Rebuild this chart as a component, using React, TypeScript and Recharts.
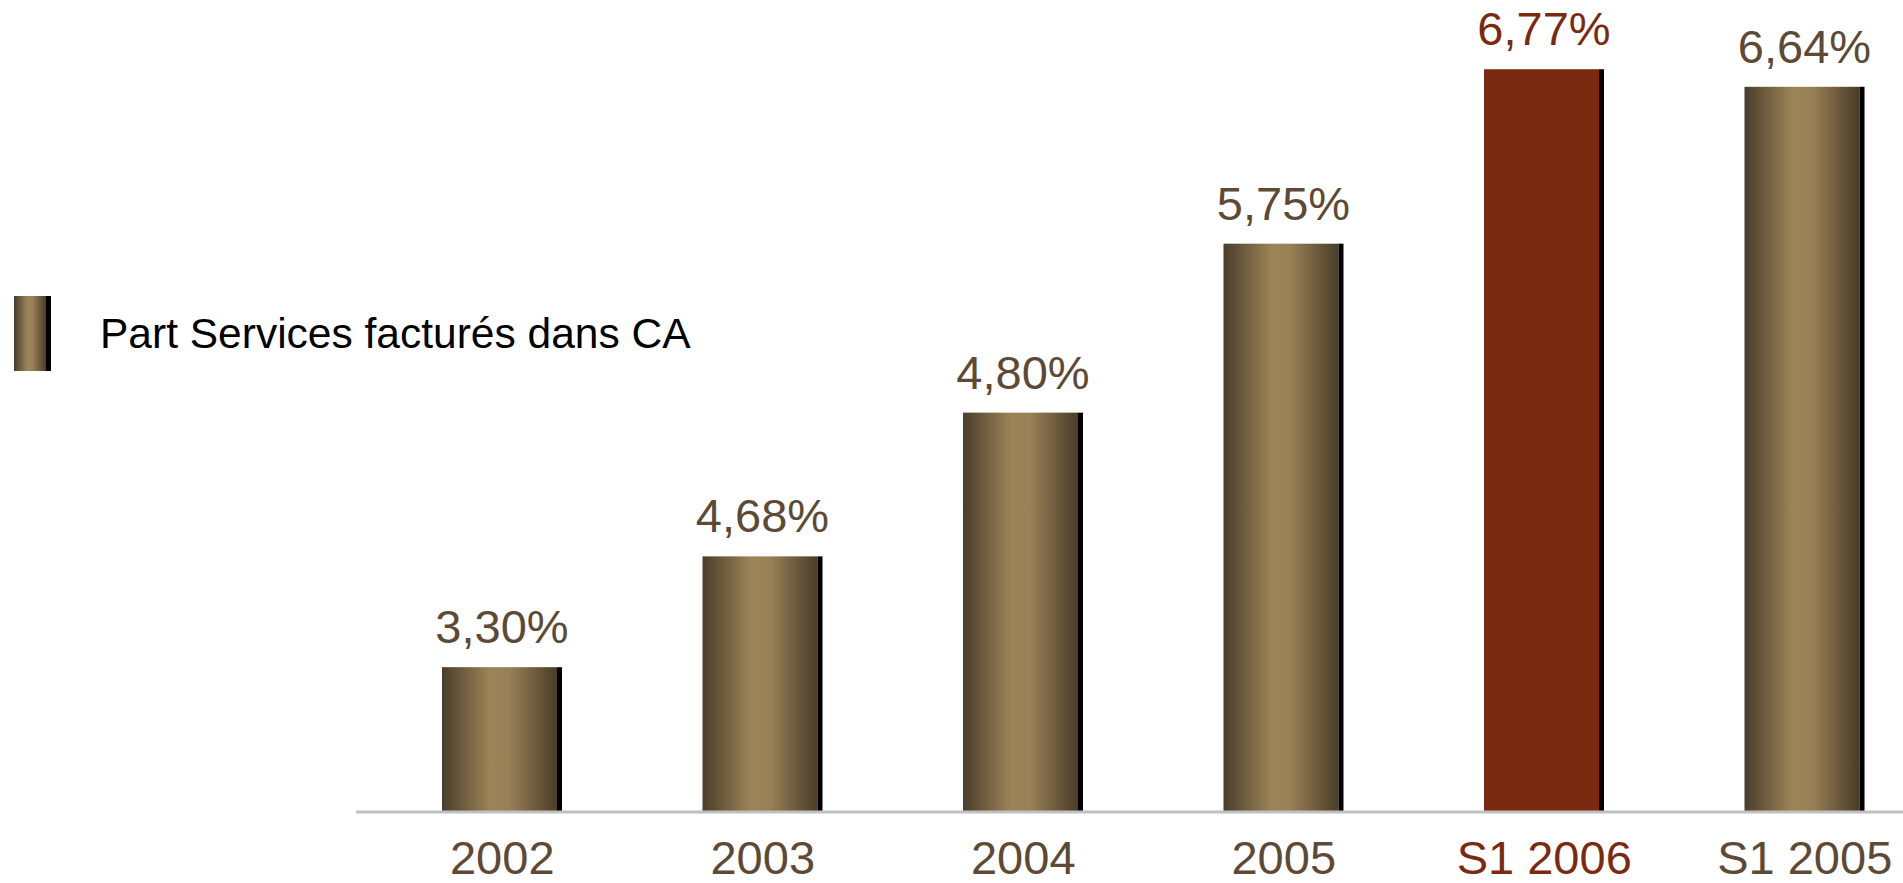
import { BarChart, Bar, XAxis, YAxis, LabelList, Legend } from "recharts";

// categories and printed shares of invoiced services in turnover (%)
const categories = ["2002", "2003", "2004", "2005", "S1 2006", "S1 2005"];
const shares = [3.3, 4.68, 4.8, 5.75, 6.77, 6.64];
// the slide's bars are not drawn to scale: levels read off the bar tops,
// in the same % units as the tallest bar (S1 2006)
const drawnLevels = [1.32, 2.33, 3.64, 5.18, 6.77, 6.61];
const highlighted = "S1 2006";
const seriesName = "Part Services facturés dans CA";

const data = categories.map((cat, i) => ({
  cat,
  share: shares[i],
  level: drawnLevels[i],
}));

const FONT = "'Liberation Sans', Arial, sans-serif";
const TEXT_BROWN = "#5c4a36";
const RED_BROWN = "#7a2a10";

const formatShare = (v: number) => v.toFixed(2).replace(".", ",") + "%";

const GradientDefs = () => (
  <defs>
    <linearGradient id="bronze" x1="0" y1="0" x2="1" y2="0">
      <stop offset="0%" stopColor="#4a3d2a" />
      <stop offset="42%" stopColor="#9c8458" />
      <stop offset="58%" stopColor="#998157" />
      <stop offset="100%" stopColor="#4a3c29" />
    </linearGradient>
  </defs>
);

const BarShape = (props: any) => {
  const { x, y, width, height, payload } = props;
  if (!height || height <= 0) return null;
  const shadow = 5;
  const fill = payload.cat === highlighted ? RED_BROWN : "url(#bronze)";
  return (
    <g>
      <rect x={x} y={y} width={width - shadow} height={height} fill={fill} />
      <rect x={x + width - shadow} y={y} width={shadow} height={height} fill="#000" />
    </g>
  );
};

const CategoryTick = (props: any) => {
  const { x, y, payload } = props;
  const color = payload.value === highlighted ? RED_BROWN : TEXT_BROWN;
  return (
    <text x={x} y={y} dy={60} textAnchor="middle" fill={color} fontSize={47} fontFamily={FONT}>
      {payload.value}
    </text>
  );
};

const ValueLabel = (props: any) => {
  const { x, y, width, index } = props;
  const color = categories[index] === highlighted ? RED_BROWN : TEXT_BROWN;
  return (
    <text
      x={x + width / 2}
      y={y - 24}
      textAnchor="middle"
      fill={color}
      fontSize={47}
      fontFamily={FONT}
    >
      {formatShare(shares[index])}
    </text>
  );
};

const LegendContent = () => (
  <div style={{ display: "flex", alignItems: "center", fontFamily: FONT }}>
    <div
      style={{
        width: 32,
        height: 75,
        background: "linear-gradient(to right, #4a3d2a 0%, #9c8458 42%, #998157 58%, #4a3c29 100%)",
        borderRight: "5px solid #000",
      }}
    />
    <span style={{ marginLeft: 49, fontSize: 42.5, color: "#000", whiteSpace: "nowrap" }}>
      {seriesName}
    </span>
  </div>
);

export default function App() {
  return (
    <div style={{ position: "absolute", left: 0, top: 0, width: 1903, height: 883, overflow: "hidden", background: "#fff" }}>
      <BarChart
        width={1935}
        height={883}
        data={data}
        margin={{ top: 44, right: 0, bottom: 0, left: 356 }}
        barSize={120}
      >
        <GradientDefs />
        <XAxis
          dataKey="cat"
          height={71}
          axisLine={{ stroke: "#c0c0c0", strokeWidth: 3 }}
          tickLine={false}
          tickSize={0}
          tick={<CategoryTick />}
          padding={{ left: 16, right: 0 }}
          interval={0}
        />
        <YAxis hide domain={[0, 7]} />
        <Legend
          layout="vertical"
          align="center"
          verticalAlign="middle"
          content={<LegendContent />}
          wrapperStyle={{ left: 14, top: 296, width: "auto" }}
        />
        <Bar dataKey="level" name={seriesName} shape={<BarShape />} isAnimationActive={false}>
          <LabelList dataKey="share" content={<ValueLabel />} />
        </Bar>
      </BarChart>
    </div>
  );
}
